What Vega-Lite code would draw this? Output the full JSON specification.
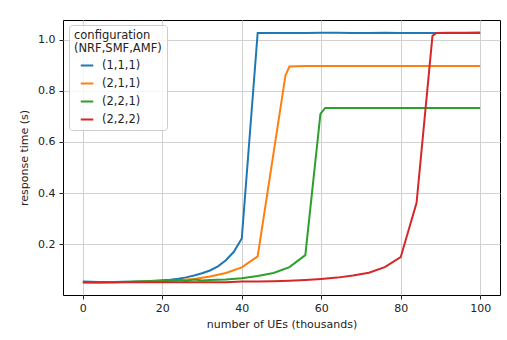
{
  "$schema": "https://vega.github.io/schema/vega-lite/v6.json",
  "autosize": {"type": "none"},
  "width": 437,
  "height": 275,
  "padding": {"left": 63, "top": 20, "right": 7, "bottom": 45},
  "background": "white",
  "config": {
    "font": "DejaVu Sans",
    "view": {"stroke": "#000000", "strokeWidth": 1},
    "axis": {
      "labelFontSize": 11,
      "titleFontSize": 11,
      "titleFontWeight": "normal",
      "labelColor": "#222222",
      "titleColor": "#222222",
      "tickColor": "#222222",
      "tickSize": 4,
      "domain": false,
      "gridColor": "#d0d0d0",
      "gridWidth": 1,
      "gridOpacity": 1
    },
    "legend": {
      "titleFontSize": 11.5,
      "titleFontWeight": "normal",
      "labelFontSize": 11.5,
      "titleColor": "#222222",
      "labelColor": "#222222"
    }
  },
  "data": {
    "values": [
      {"config": "(1,1,1)", "ues": 0, "rt": 0.054},
      {"config": "(1,1,1)", "ues": 2, "rt": 0.053},
      {"config": "(1,1,1)", "ues": 4, "rt": 0.052},
      {"config": "(1,1,1)", "ues": 6, "rt": 0.052},
      {"config": "(1,1,1)", "ues": 8, "rt": 0.052},
      {"config": "(1,1,1)", "ues": 10, "rt": 0.053},
      {"config": "(1,1,1)", "ues": 12, "rt": 0.053},
      {"config": "(1,1,1)", "ues": 14, "rt": 0.054},
      {"config": "(1,1,1)", "ues": 16, "rt": 0.055},
      {"config": "(1,1,1)", "ues": 18, "rt": 0.057},
      {"config": "(1,1,1)", "ues": 20, "rt": 0.059},
      {"config": "(1,1,1)", "ues": 22, "rt": 0.061},
      {"config": "(1,1,1)", "ues": 24, "rt": 0.065},
      {"config": "(1,1,1)", "ues": 26, "rt": 0.070},
      {"config": "(1,1,1)", "ues": 28, "rt": 0.077},
      {"config": "(1,1,1)", "ues": 30, "rt": 0.086},
      {"config": "(1,1,1)", "ues": 32, "rt": 0.097},
      {"config": "(1,1,1)", "ues": 34, "rt": 0.113},
      {"config": "(1,1,1)", "ues": 36, "rt": 0.137},
      {"config": "(1,1,1)", "ues": 38, "rt": 0.170},
      {"config": "(1,1,1)", "ues": 40, "rt": 0.222},
      {"config": "(1,1,1)", "ues": 44, "rt": 1.026},
      {"config": "(1,1,1)", "ues": 48, "rt": 1.026},
      {"config": "(1,1,1)", "ues": 52, "rt": 1.026},
      {"config": "(1,1,1)", "ues": 56, "rt": 1.026},
      {"config": "(1,1,1)", "ues": 60, "rt": 1.027},
      {"config": "(1,1,1)", "ues": 64, "rt": 1.027},
      {"config": "(1,1,1)", "ues": 68, "rt": 1.026},
      {"config": "(1,1,1)", "ues": 72, "rt": 1.026},
      {"config": "(1,1,1)", "ues": 76, "rt": 1.027},
      {"config": "(1,1,1)", "ues": 80, "rt": 1.026},
      {"config": "(1,1,1)", "ues": 84, "rt": 1.026},
      {"config": "(1,1,1)", "ues": 88, "rt": 1.026},
      {"config": "(1,1,1)", "ues": 92, "rt": 1.026},
      {"config": "(1,1,1)", "ues": 96, "rt": 1.026},
      {"config": "(1,1,1)", "ues": 100, "rt": 1.026},

      {"config": "(2,1,1)", "ues": 0, "rt": 0.050},
      {"config": "(2,1,1)", "ues": 4, "rt": 0.050},
      {"config": "(2,1,1)", "ues": 8, "rt": 0.051},
      {"config": "(2,1,1)", "ues": 12, "rt": 0.052},
      {"config": "(2,1,1)", "ues": 16, "rt": 0.054},
      {"config": "(2,1,1)", "ues": 20, "rt": 0.056},
      {"config": "(2,1,1)", "ues": 24, "rt": 0.058},
      {"config": "(2,1,1)", "ues": 26, "rt": 0.062},
      {"config": "(2,1,1)", "ues": 28, "rt": 0.064},
      {"config": "(2,1,1)", "ues": 32, "rt": 0.073},
      {"config": "(2,1,1)", "ues": 36, "rt": 0.087},
      {"config": "(2,1,1)", "ues": 40, "rt": 0.109},
      {"config": "(2,1,1)", "ues": 44, "rt": 0.152},
      {"config": "(2,1,1)", "ues": 51, "rt": 0.86},
      {"config": "(2,1,1)", "ues": 52, "rt": 0.895},
      {"config": "(2,1,1)", "ues": 56, "rt": 0.897},
      {"config": "(2,1,1)", "ues": 60, "rt": 0.897},
      {"config": "(2,1,1)", "ues": 64, "rt": 0.897},
      {"config": "(2,1,1)", "ues": 68, "rt": 0.897},
      {"config": "(2,1,1)", "ues": 72, "rt": 0.897},
      {"config": "(2,1,1)", "ues": 76, "rt": 0.897},
      {"config": "(2,1,1)", "ues": 80, "rt": 0.897},
      {"config": "(2,1,1)", "ues": 84, "rt": 0.897},
      {"config": "(2,1,1)", "ues": 88, "rt": 0.897},
      {"config": "(2,1,1)", "ues": 92, "rt": 0.897},
      {"config": "(2,1,1)", "ues": 96, "rt": 0.897},
      {"config": "(2,1,1)", "ues": 100, "rt": 0.897},

      {"config": "(2,2,1)", "ues": 0, "rt": 0.050},
      {"config": "(2,2,1)", "ues": 4, "rt": 0.050},
      {"config": "(2,2,1)", "ues": 8, "rt": 0.051},
      {"config": "(2,2,1)", "ues": 12, "rt": 0.053},
      {"config": "(2,2,1)", "ues": 16, "rt": 0.055},
      {"config": "(2,2,1)", "ues": 20, "rt": 0.056},
      {"config": "(2,2,1)", "ues": 22, "rt": 0.058},
      {"config": "(2,2,1)", "ues": 24, "rt": 0.061},
      {"config": "(2,2,1)", "ues": 26, "rt": 0.056},
      {"config": "(2,2,1)", "ues": 28, "rt": 0.062},
      {"config": "(2,2,1)", "ues": 30, "rt": 0.058},
      {"config": "(2,2,1)", "ues": 32, "rt": 0.060},
      {"config": "(2,2,1)", "ues": 36, "rt": 0.062},
      {"config": "(2,2,1)", "ues": 40, "rt": 0.067},
      {"config": "(2,2,1)", "ues": 44, "rt": 0.075},
      {"config": "(2,2,1)", "ues": 48, "rt": 0.087},
      {"config": "(2,2,1)", "ues": 52, "rt": 0.110},
      {"config": "(2,2,1)", "ues": 56, "rt": 0.157},
      {"config": "(2,2,1)", "ues": 59.8, "rt": 0.71},
      {"config": "(2,2,1)", "ues": 61, "rt": 0.733},
      {"config": "(2,2,1)", "ues": 64, "rt": 0.733},
      {"config": "(2,2,1)", "ues": 68, "rt": 0.733},
      {"config": "(2,2,1)", "ues": 72, "rt": 0.733},
      {"config": "(2,2,1)", "ues": 76, "rt": 0.733},
      {"config": "(2,2,1)", "ues": 80, "rt": 0.733},
      {"config": "(2,2,1)", "ues": 84, "rt": 0.733},
      {"config": "(2,2,1)", "ues": 88, "rt": 0.733},
      {"config": "(2,2,1)", "ues": 92, "rt": 0.733},
      {"config": "(2,2,1)", "ues": 96, "rt": 0.733},
      {"config": "(2,2,1)", "ues": 100, "rt": 0.733},

      {"config": "(2,2,2)", "ues": 0, "rt": 0.052},
      {"config": "(2,2,2)", "ues": 4, "rt": 0.051},
      {"config": "(2,2,2)", "ues": 8, "rt": 0.051},
      {"config": "(2,2,2)", "ues": 12, "rt": 0.051},
      {"config": "(2,2,2)", "ues": 16, "rt": 0.051},
      {"config": "(2,2,2)", "ues": 20, "rt": 0.051},
      {"config": "(2,2,2)", "ues": 24, "rt": 0.051},
      {"config": "(2,2,2)", "ues": 28, "rt": 0.051},
      {"config": "(2,2,2)", "ues": 32, "rt": 0.051},
      {"config": "(2,2,2)", "ues": 36, "rt": 0.051},
      {"config": "(2,2,2)", "ues": 40, "rt": 0.054},
      {"config": "(2,2,2)", "ues": 44, "rt": 0.054},
      {"config": "(2,2,2)", "ues": 48, "rt": 0.055},
      {"config": "(2,2,2)", "ues": 52, "rt": 0.057},
      {"config": "(2,2,2)", "ues": 56, "rt": 0.060},
      {"config": "(2,2,2)", "ues": 60, "rt": 0.064},
      {"config": "(2,2,2)", "ues": 64, "rt": 0.069},
      {"config": "(2,2,2)", "ues": 68, "rt": 0.077},
      {"config": "(2,2,2)", "ues": 72, "rt": 0.088},
      {"config": "(2,2,2)", "ues": 76, "rt": 0.110},
      {"config": "(2,2,2)", "ues": 80, "rt": 0.149},
      {"config": "(2,2,2)", "ues": 84, "rt": 0.362},
      {"config": "(2,2,2)", "ues": 88, "rt": 1.015},
      {"config": "(2,2,2)", "ues": 89, "rt": 1.026},
      {"config": "(2,2,2)", "ues": 92, "rt": 1.027},
      {"config": "(2,2,2)", "ues": 96, "rt": 1.027},
      {"config": "(2,2,2)", "ues": 100, "rt": 1.028}
    ]
  },
  "mark": {"type": "line", "strokeWidth": 2, "clip": true},
  "encoding": {
    "x": {
      "field": "ues",
      "type": "quantitative",
      "scale": {"domain": [-5, 105], "nice": false, "zero": false},
      "axis": {
        "title": "number of UEs (thousands)",
        "values": [0, 20, 40, 60, 80, 100],
        "format": "d",
        "labelPadding": 3,
        "titlePadding": 5
      }
    },
    "y": {
      "field": "rt",
      "type": "quantitative",
      "scale": {"domain": [0.001, 1.077], "nice": false, "zero": false},
      "axis": {
        "title": "response time (s)",
        "values": [0.2, 0.4, 0.6, 0.8, 1.0],
        "format": ".1f",
        "labelPadding": 4,
        "titlePadding": 8
      }
    },
    "color": {
      "field": "config",
      "type": "nominal",
      "scale": {
        "domain": ["(1,1,1)", "(2,1,1)", "(2,2,1)", "(2,2,2)"],
        "range": ["#1f77b4", "#ff7f0e", "#2ca02c", "#d62728"]
      },
      "legend": {
        "title": ["configuration", "(NRF,SMF,AMF)"],
        "orient": "none",
        "legendX": 6,
        "legendY": 5,
        "padding": 5,
        "fillColor": "rgba(255,255,255,0.8)",
        "strokeColor": "#cccccc",
        "cornerRadius": 3,
        "titleLineHeight": 13,
        "titlePadding": 5,
        "symbolType": "M-1.25,0H1.25",
        "symbolSize": 100,
        "symbolStrokeWidth": 2,
        "symbolOffset": 7,
        "labelOffset": 9,
        "rowPadding": 6
      }
    }
  }
}
